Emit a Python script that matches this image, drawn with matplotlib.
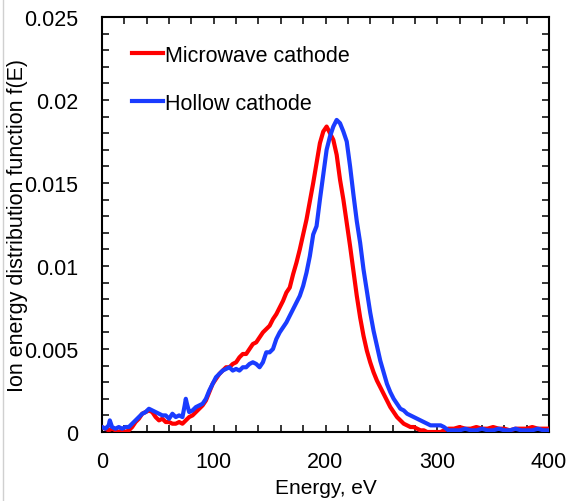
import matplotlib
matplotlib.use('Agg')
import matplotlib.pyplot as plt
from matplotlib.ticker import MultipleLocator, FuncFormatter
from matplotlib.lines import Line2D

plt.rcParams['font.family'] = ['Liberation Sans', 'DejaVu Sans']

# Microwave cathode
e_mw = [0, 3, 6, 9, 12, 15, 18, 21, 24, 27, 30, 33, 36, 39, 42, 45, 48, 51, 54, 57,
        60, 63, 66, 69, 72, 75, 78, 81, 84, 87, 90, 93, 96, 99, 102, 105, 108, 111, 114, 117,
        120, 123, 126, 129, 132, 135, 138, 141, 144, 147, 150, 153, 156, 159, 162, 165, 168, 171, 174, 177,
        180, 183, 186, 189, 192, 195, 198, 201, 204, 207, 210, 213, 216, 219, 222, 225, 228, 231, 234, 237,
        240, 243, 246, 249, 252, 255, 258, 261, 264, 267, 270, 273, 276, 279, 282, 285, 288, 291, 294, 297,
        300, 303, 306, 310, 315, 320, 325, 330, 335, 340, 345, 350, 355, 360, 365, 370, 375, 380, 385, 390,
        395, 400]
f_mw = [0.0003, 0.0002, 0.0001, 0.0002, 0.0001, 0.0000, 0.0001, 0.0000, 0.0001, 0.0003,
        0.0006, 0.0008, 0.0011, 0.0012, 0.0013, 0.0012, 0.0009, 0.0007, 0.0008, 0.0006,
        0.0006, 0.0005, 0.0005, 0.0006, 0.0005, 0.0007, 0.0009, 0.0010, 0.0012, 0.0014,
        0.0016, 0.0019, 0.0024, 0.0029, 0.0032, 0.0035, 0.0037, 0.0039, 0.0039, 0.0041,
        0.0042, 0.0045, 0.0047, 0.0047, 0.0050, 0.0053, 0.0054, 0.0057, 0.0060, 0.0062,
        0.0064, 0.0068, 0.0071, 0.0075, 0.0079, 0.0084, 0.0087, 0.0095, 0.0102, 0.0110,
        0.0119, 0.0128, 0.0139, 0.0150, 0.0162, 0.0174, 0.0181, 0.0184, 0.0180, 0.0176,
        0.0167, 0.0152, 0.0140, 0.0126, 0.0112, 0.0097, 0.0082, 0.0069, 0.0058, 0.0049,
        0.0042, 0.0036, 0.0031, 0.0027, 0.0023, 0.0019, 0.0015, 0.0012, 0.0009, 0.0007,
        0.0005, 0.0004, 0.0003, 0.0003, 0.0002, 0.0001, 0.0001, 0.0000, 0.0000, 0.0000,
        0.0000, 0.0000, 0.0001, 0.0002, 0.0002, 0.0003, 0.0002, 0.0002, 0.0003, 0.0002,
        0.0002, 0.0003, 0.0002, 0.0002, 0.0001, 0.0002, 0.0002, 0.0002, 0.0003, 0.0002,
        0.0002, 0.0002]

# Hollow cathode
e_hc = [0, 3, 6, 7, 9, 12, 15, 18, 21, 24, 27, 30, 33, 36, 39, 42, 45, 48, 51, 54,
        57, 60, 63, 66, 69, 72, 74, 75, 76, 78, 81, 84, 87, 90, 93, 96, 99, 102, 105, 108,
        111, 114, 117, 120, 123, 126, 129, 132, 135, 138, 141, 144, 147, 150, 153, 156, 159, 162, 165, 168,
        171, 174, 177, 180, 183, 186, 189, 192, 195, 198, 201, 204, 207, 210, 213, 216, 219, 222, 225, 228,
        231, 234, 237, 240, 243, 246, 249, 252, 255, 258, 261, 264, 267, 270, 273, 276, 279, 282, 285, 288,
        291, 294, 297, 300, 303, 306, 310, 315, 320, 325, 330, 335, 340, 345, 350, 355, 360, 365, 370, 375,
        380, 385, 390, 395, 400]
f_hc = [0.0003, 0.0002, 0.0004, 0.0007, 0.0003, 0.0002, 0.0003, 0.0002, 0.0003, 0.0003,
        0.0005, 0.0007, 0.0009, 0.0011, 0.0012, 0.0014, 0.0013, 0.0012, 0.0011, 0.0010,
        0.0010, 0.0008, 0.0011, 0.0009, 0.0010, 0.0009, 0.0016, 0.0020, 0.0017, 0.0012,
        0.0013, 0.0015, 0.0016, 0.0017, 0.0020, 0.0025, 0.0029, 0.0033, 0.0035, 0.0037,
        0.0038, 0.0039, 0.0037, 0.0038, 0.0037, 0.0039, 0.0039, 0.0041, 0.0042, 0.0041,
        0.0039, 0.0042, 0.0048, 0.0048, 0.0050, 0.0056, 0.0060, 0.0063, 0.0066, 0.0070,
        0.0074, 0.0078, 0.0082, 0.0088, 0.0096, 0.0106, 0.0119, 0.0124, 0.0140, 0.0155,
        0.0170, 0.0178, 0.0184, 0.0188, 0.0186, 0.0181, 0.0175, 0.0160, 0.0143, 0.0127,
        0.0114, 0.0098, 0.0085, 0.0072, 0.0061, 0.0052, 0.0043, 0.0036, 0.0029, 0.0024,
        0.0020, 0.0017, 0.0014, 0.0013, 0.0011, 0.0010, 0.0009, 0.0008, 0.0007, 0.0006,
        0.0005, 0.0004, 0.0004, 0.0004, 0.0004, 0.0003, 0.0001, 0.0001, 0.0001, 0.0002,
        0.0001, 0.0001, 0.0002, 0.0001, 0.0001, 0.0002, 0.0001, 0.0001, 0.0002, 0.0001,
        0.0001, 0.0001, 0.0002, 0.0001, 0.0001]

fig = plt.figure(figsize=(5.71, 5.02), dpi=100)
ax = fig.add_axes([102 / 571, 1 - 433 / 502, 447 / 571, 415 / 502])

ax.plot(e_mw, f_mw, color='#ff0000', lw=3, label='Microwave cathode', zorder=3)
ax.plot(e_hc, f_hc, color='#1a3cff', lw=3, label='Hollow cathode', zorder=4)

ax.set_xlim(0, 400)
ax.set_ylim(0, 0.025)
ax.xaxis.set_major_locator(MultipleLocator(100))
ax.xaxis.set_minor_locator(MultipleLocator(20))
ax.yaxis.set_major_locator(MultipleLocator(0.005))
ax.yaxis.set_minor_locator(MultipleLocator(0.001))
ax.yaxis.set_major_formatter(FuncFormatter(lambda v, p: '0' if v == 0 else ('%.3f' % v).rstrip('0')))

ax.tick_params(which='both', direction='in', top=True, right=True, length=5, width=1.1)
ax.tick_params(axis='y', labelsize=15.5, pad=17)
ax.tick_params(axis='x', labelsize=15.5, pad=14)
for s in ax.spines.values():
    s.set_linewidth(1.5)

ax.set_xlabel('Energy, eV', fontsize=15, labelpad=4)
ax.set_ylabel('Ion energy distribution function f(E)', fontsize=15.5, labelpad=-3)

ax.legend(loc='upper left', frameon=False, fontsize=15.5, handlelength=1.4,
          handletextpad=0.1, labelspacing=1.25, borderaxespad=0.6, bbox_to_anchor=(0.02, 0.985))

fig.add_artist(Line2D([3 / 571, 3 / 571], [0, 1], color='#d0d0d0', lw=1))

fig.savefig('out.png', dpi=100)
